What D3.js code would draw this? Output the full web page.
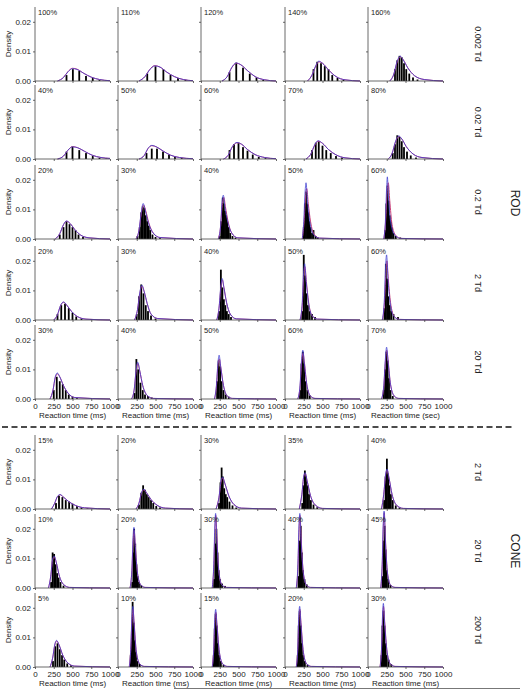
<!DOCTYPE html>
<html><head><meta charset="utf-8">
<script src="https://cdn.jsdelivr.net/npm/d3@7"></script>
<style>body{margin:0;background:#fff}svg{display:block;font-family:"Liberation Sans",Arial,sans-serif}</style>
</head><body>
<svg id="c" width="525" height="692"></svg>
<script>
// ---------- DATA ----------
const rowLabels = ["0.002 Td","0.02 Td","0.2 Td","2 Td","20 Td","2 Td","20 Td","200 Td"];
const groupLabels = [{name:"ROD", rows:[0,4]},{name:"CONE", rows:[5,7]}];
const pctLabels = [
  ["100%","110%","120%","140%","160%"],
  ["40%","50%","60%","70%","80%"],
  ["20%","30%","40%","50%","60%"],
  ["20%","30%","40%","50%","60%"],
  ["30%","40%","50%","60%","70%"],
  ["15%","20%","30%","35%","40%"],
  ["10%","20%","30%","40%","45%"],
  ["5%","10%","15%","20%","30%"]
];
const xTicks = [0,250,500,750,1000];
const yTicks = [0,0.01,0.02];
const xTitles = [
  ["Reaction time (ms)","Reaction time (ms)","Reaction time (ms)","Reaction time (ms)","Reaction time (sec)"],
  ["Reaction time (ms)","Reaction time (ms)","Reaction time (ms)","Reaction time (ms)","Reaction time (ms)"]
];
// histogram bars: [bin centre (ms), density]
const bars = [
 [ // 0.002 Td
  [[420,.002],[505,.004],[590,.0035],[680,.0017],[770,.001],[860,.0003]],
  [[390,.0025],[500,.005],[605,.004],[700,.002],[800,.001],[900,.0004]],
  [[380,.003],[470,.0062],[560,.0045],[650,.0025],[740,.0012],[830,.0004]],
  [[380,.004],[430,.0065],[480,.006],[530,.005],[580,.004],[630,.002],[700,.001],[780,.0004]],
  [[360,.004],[390,.007],[420,.0085],[450,.008],[480,.006],[510,.004],[550,.0025],[600,.0012],[660,.0005]]
 ],
 [ // 0.02 Td
  [[420,.0025],[500,.0042],[590,.003],[680,.002],[770,.001],[860,.0004],[950,.0002]],
  [[380,.002],[450,.0035],[520,.0035],[600,.0025],[680,.0015],[760,.0008],[850,.0004]],
  [[380,.003],[440,.005],[500,.0055],[560,.004],[620,.0028],[690,.0015],[770,.0007],[860,.0003]],
  [[360,.003],[410,.0055],[450,.006],[500,.0045],[550,.003],[610,.002],[680,.001],[760,.0005]],
  [[330,.002],[360,.005],[390,.008],[420,.0075],[450,.006],[480,.004],[520,.0025],[570,.0012],[640,.0005]]
 ],
 [ // 0.2 Td
  [[330,.0015],[380,.004],[420,.006],[460,.005],[500,.004],[540,.003],[580,.0015],[640,.0007]],
  [[260,.001],[290,.004],[310,.009],[330,.011],[350,.0105],[370,.008],[390,.006],[410,.0045],[430,.003],[460,.0015],[500,.0007],[560,.0003]],
  [[250,.001],[270,.006],[290,.014],[305,.012],[320,.0095],[335,.008],[350,.006],[370,.004],[390,.002],[420,.001],[460,.0005]],
  [[250,.004],[265,.012],[280,.016],[295,.012],[310,.009],[325,.006],[340,.004],[360,.002],[380,.003],[410,.001],[440,.0005]],
  [[230,.003],[245,.012],[260,.018],[275,.013],[290,.008],[305,.006],[320,.004],[340,.002],[370,.001],[430,.0005]]
 ],
 [ // 2 Td
  [[300,.002],[350,.005],[400,.0055],[450,.004],[500,.0025],[550,.0012],[620,.0005],[750,.0003]],
  [[250,.002],[280,.008],[310,.012],[340,.009],[370,.005],[400,.003],[440,.0015],[500,.0005]],
  [[240,.003],[265,.017],[285,.011],[305,.007],[325,.005],[345,.003],[370,.002],[400,.001]],
  [[230,.003],[250,.022],[268,.015],[285,.009],[305,.005],[330,.003],[360,.002],[400,.001]],
  [[220,.004],[238,.019],[255,.014],[272,.008],[290,.005],[310,.003],[340,.002],[400,.001]]
 ],
 [ // 20 Td
  [[250,.003],[290,.0075],[330,.006],[370,.005],[410,.003],[450,.0015],[500,.0008],[560,.0003]],
  [[220,.002],[245,.0135],[270,.01],[300,.0055],[330,.003],[360,.0015],[400,.001],[450,.0005]],
  [[215,.006],[235,.013],[255,.011],[275,.006],[300,.003],[330,.0015],[370,.0008]],
  [[200,.003],[220,.012],[238,.016],[255,.012],[275,.006],[300,.003],[330,.0012]],
  [[210,.003],[228,.01],[245,.016],[262,.013],[280,.007],[300,.003],[330,.001]]
 ],
 [ // cone 2 Td
  [[280,.002],[320,.0045],[365,.004],[410,.003],[455,.0025],[500,.0018],[560,.001],[620,.0005],[700,.0002]],
  [[280,.0015],[310,.0055],[335,.008],[360,.0065],[385,.005],[410,.004],[440,.003],[470,.002],[510,.001],[560,.0005]],
  [[240,.002],[260,.009],[275,.014],[290,.011],[310,.007],[330,.005],[350,.004],[380,.0025],[420,.0012],[470,.0005]],
  [[230,.002],[250,.008],[265,.013],[280,.011],[300,.008],[320,.005],[345,.003],[380,.0015],[430,.0006]],
  [[215,.003],[235,.011],[252,.017],[268,.012],[285,.008],[305,.005],[330,.003],[370,.0012],[420,.0005]]
 ],
 [ // cone 20 Td
  [[215,.002],[235,.012],[255,.0115],[275,.008],[295,.005],[315,.0035],[340,.002],[380,.0008]],
  [[190,.002],[205,.012],[215,.02],[230,.015],[245,.008],[260,.004],[280,.002],[310,.001]],
  [[175,.003],[190,.015],[205,.02],[220,.012],[235,.006],[255,.003],[280,.0015],[320,.0007]],
  [[180,.004],[195,.016],[210,.021],[225,.012],[240,.006],[260,.003],[290,.0012]],
  [[195,.004],[210,.016],[222,.021],[235,.013],[250,.006],[270,.003],[300,.001]]
 ],
 [ // cone 200 Td
  [[240,.002],[270,.007],[300,.008],[330,.006],[360,.004],[390,.0025],[430,.0012],[480,.0006]],
  [[170,.004],[185,.012],[195,.022],[210,.015],[225,.009],[240,.005],[260,.002],[290,.001]],
  [[170,.004],[183,.013],[196,.018],[210,.014],[225,.008],[240,.004],[265,.002],[300,.0008]],
  [[170,.004],[183,.014],[196,.019],[210,.014],[225,.008],[240,.004],[265,.002],[300,.0008]],
  [[180,.004],[193,.014],[206,.019],[220,.014],[235,.008],[250,.004],[275,.0025],[310,.001]]
 ]
];
// fitted density curves: [ms, density]
const redCurves = [
 [
  [[300,0],[380,.0012],[440,.0032],[500,.0043],[560,.004],[650,.0026],[750,.0013],[860,.0005],[1000,.0001]],
  [[280,0],[360,.0015],[420,.0038],[490,.0052],[560,.0047],[650,.003],[750,.0015],[870,.0005],[1000,.0001]],
  [[280,0],[350,.0015],[410,.0045],[470,.006],[530,.0055],[620,.0035],[720,.0015],[850,.0004],[1000,0]],
  [[300,0],[360,.002],[410,.005],[450,.0065],[500,.006],[580,.0038],[680,.0015],[800,.0004],[1000,0]],
  [[290,0],[340,.002],[390,.0065],[430,.0082],[470,.0072],[530,.0045],[620,.0018],[750,.0005],[1000,0]]
 ],
 [
  [[300,0],[380,.001],[440,.003],[500,.0042],[570,.0038],[660,.0026],[760,.0013],[880,.0005],[1000,.0002]],
  [[280,0],[350,.0012],[400,.0035],[450,.0045],[520,.004],[600,.0027],[700,.0013],[820,.0005],[1000,.0001]],
  [[300,0],[360,.0012],[420,.0042],[480,.0055],[540,.005],[620,.0032],[720,.0015],[850,.0005],[1000,.0001]],
  [[280,0],[340,.0015],[400,.0048],[440,.006],[500,.0053],[580,.0032],[680,.0014],[800,.0004],[1000,0]],
  [[270,0],[320,.0018],[370,.006],[410,.0076],[450,.0068],[510,.0042],[600,.0017],[720,.0005],[1000,0]]
 ],
 [
  [[270,0],[330,.0018],[380,.0048],[420,.006],[470,.0052],[530,.0032],[610,.0013],[720,.0004],[1000,0]],
  [[240,0],[280,.003],[310,.0085],[340,.0115],[370,.0095],[410,.0055],[470,.002],[560,.0005],[1000,0]],
  [[230,0],[260,.004],[285,.012],[305,.014],[325,.011],[360,.006],[410,.002],[490,.0004],[1000,0]],
  [[230,0],[255,.006],[275,.015],[290,.017],[310,.012],[340,.006],[390,.0015],[460,.0003],[1000,0]],
  [[210,0],[235,.006],[255,.016],[270,.019],[290,.013],[320,.005],[370,.0012],[440,.0002],[1000,0]]
 ],
 [
  [[250,0],[300,.0018],[340,.0048],[380,.006],[430,.0048],[490,.0028],[570,.0011],[680,.0003],[1000,0]],
  [[220,0],[260,.0035],[290,.009],[320,.0115],[350,.0095],[390,.0055],[440,.002],[530,.0005],[1000,0]],
  [[210,0],[240,.004],[265,.011],[285,.0135],[305,.011],[340,.006],[390,.002],[470,.0004],[1000,0]],
  [[200,0],[230,.005],[250,.015],[265,.018],[285,.013],[315,.006],[360,.0015],[430,.0003],[1000,0]],
  [[190,0],[220,.006],[240,.017],[252,.02],[270,.014],[300,.006],[350,.0012],[420,.0002],[1000,0]]
 ],
 [
  [[200,0],[240,.003],[270,.0072],[300,.0085],[330,.0075],[380,.0045],[440,.002],[530,.0005],[1000,0]],
  [[180,0],[215,.003],[240,.009],[265,.012],[290,.0095],[330,.0045],[390,.0012],[470,.0002],[1000,0]],
  [[180,0],[205,.004],[225,.011],[245,.0135],[265,.0105],[300,.0045],[350,.001],[420,.0002],[1000,0]],
  [[170,0],[200,.004],[220,.012],[240,.0155],[260,.012],[290,.005],[340,.001],[400,.0002],[1000,0]],
  [[180,0],[210,.004],[230,.012],[250,.0165],[270,.0125],[300,.005],[350,.001],[410,.0002],[1000,0]]
 ],
 [
  [[220,0],[260,.0018],[300,.0042],[335,.0048],[380,.004],[450,.0025],[540,.0012],[660,.0004],[1000,0]],
  [[240,0],[280,.002],[315,.0055],[345,.0065],[380,.0055],[440,.0032],[520,.0013],[630,.0003],[1000,0]],
  [[200,0],[240,.004],[270,.0095],[290,.0105],[320,.0085],[370,.0045],[440,.0015],[540,.0003],[1000,0]],
  [[190,0],[225,.005],[250,.011],[270,.012],[295,.0095],[340,.0045],[410,.0012],[500,.0002],[1000,0]],
  [[180,0],[210,.005],[235,.0115],[255,.0132],[280,.0105],[320,.005],[380,.0013],[470,.0002],[1000,0]]
 ],
 [
  [[180,0],[210,.004],[235,.0095],[258,.0105],[285,.0085],[320,.0045],[380,.0012],[460,.0002],[1000,0]],
  [[160,0],[185,.006],[202,.016],[215,.0195],[232,.014],[260,.005],[300,.0012],[360,.0002],[1000,0]],
  [[150,0],[170,.007],[185,.019],[197,.0245],[212,.017],[240,.005],[280,.001],[340,.0002],[1000,0]],
  [[150,0],[172,.007],[188,.02],[200,.0245],[215,.017],[245,.005],[285,.001],[340,.0002],[1000,0]],
  [[170,0],[190,.008],[205,.021],[217,.0255],[232,.017],[260,.005],[300,.001],[360,.0002],[1000,0]]
 ],
 [
  [[200,0],[235,.003],[265,.0075],[290,.0088],[320,.0075],[370,.004],[440,.0013],[530,.0003],[1000,0]],
  [[150,0],[170,.006],[187,.016],[200,.0195],[215,.015],[245,.005],[290,.001],[350,.0002],[1000,0]],
  [[150,0],[170,.006],[185,.015],[198,.0185],[213,.0145],[245,.005],[290,.001],[350,.0002],[1000,0]],
  [[150,0],[170,.006],[185,.016],[198,.0195],[213,.015],[245,.005],[290,.001],[350,.0002],[1000,0]],
  [[160,0],[180,.006],[195,.016],[207,.0205],[222,.0155],[255,.005],[300,.001],[360,.0002],[1000,0]]
 ]
];
const blueCurves = [
 [
  [[300,0],[380,.0012],[440,.0031],[500,.0042],[560,.0039],[650,.0026],[750,.0013],[860,.0005],[1000,.0001]],
  [[280,0],[360,.0015],[420,.0037],[490,.0051],[560,.0047],[650,.003],[750,.0015],[870,.0005],[1000,.0001]],
  [[280,0],[350,.0015],[410,.0046],[470,.0061],[530,.0055],[620,.0035],[720,.0015],[850,.0004],[1000,0]],
  [[300,0],[360,.002],[410,.0052],[450,.0067],[500,.006],[580,.0037],[680,.0015],[800,.0004],[1000,0]],
  [[290,0],[340,.002],[390,.0068],[430,.0084],[470,.0071],[530,.0044],[620,.0018],[750,.0005],[1000,0]]
 ],
 [
  [[300,0],[380,.001],[440,.003],[500,.0041],[570,.0038],[660,.0026],[760,.0013],[880,.0005],[1000,.0002]],
  [[280,0],[350,.0012],[400,.0036],[450,.0046],[520,.004],[600,.0027],[700,.0013],[820,.0005],[1000,.0001]],
  [[300,0],[360,.0012],[420,.0043],[480,.0056],[540,.005],[620,.0032],[720,.0015],[850,.0005],[1000,.0001]],
  [[280,0],[340,.0015],[400,.005],[440,.0062],[500,.0053],[580,.0032],[680,.0014],[800,.0004],[1000,0]],
  [[270,0],[320,.0018],[370,.0062],[410,.0078],[450,.0068],[510,.0042],[600,.0017],[720,.0005],[1000,0]]
 ],
 [
  [[270,0],[330,.0018],[380,.0049],[420,.0061],[470,.0052],[530,.0032],[610,.0013],[720,.0004],[1000,0]],
  [[240,0],[280,.003],[310,.009],[335,.012],[365,.0095],[405,.0055],[470,.002],[560,.0005],[1000,0]],
  [[230,0],[260,.004],[282,.013],[298,.0148],[318,.011],[355,.006],[410,.002],[490,.0004],[1000,0]],
  [[230,0],[250,.006],[268,.016],[280,.019],[300,.0125],[335,.005],[390,.0012],[460,.0003],[1000,0]],
  [[210,0],[232,.006],[248,.017],[258,.021],[275,.013],[310,.0045],[370,.001],[440,.0002],[1000,0]]
 ],
 [
  [[250,0],[300,.0018],[340,.0049],[380,.0061],[430,.0048],[490,.0028],[570,.0011],[680,.0003],[1000,0]],
  [[220,0],[260,.0035],[290,.0092],[318,.0118],[350,.0095],[390,.0055],[440,.002],[530,.0005],[1000,0]],
  [[210,0],[240,.004],[265,.0115],[283,.014],[305,.011],[340,.006],[390,.002],[470,.0004],[1000,0]],
  [[200,0],[230,.006],[248,.016],[262,.019],[282,.013],[315,.0055],[360,.0015],[430,.0003],[1000,0]],
  [[190,0],[218,.007],[236,.019],[248,.022],[266,.014],[300,.005],[350,.0011],[420,.0002],[1000,0]]
 ],
 [
  [[200,0],[240,.003],[270,.0075],[298,.0088],[330,.0075],[380,.0045],[440,.002],[530,.0005],[1000,0]],
  [[180,0],[215,.003],[240,.0095],[262,.0125],[290,.0095],[330,.0045],[390,.0012],[470,.0002],[1000,0]],
  [[180,0],[205,.0045],[225,.012],[242,.0148],[262,.011],[300,.0045],[350,.001],[420,.0002],[1000,0]],
  [[170,0],[200,.0045],[220,.013],[238,.0165],[258,.012],[290,.005],[340,.001],[400,.0002],[1000,0]],
  [[180,0],[210,.0045],[230,.013],[248,.0175],[268,.0125],[300,.005],[350,.001],[410,.0002],[1000,0]]
 ],
 [
  [[220,0],[260,.0018],[300,.0043],[335,.0049],[380,.004],[450,.0025],[540,.0012],[660,.0004],[1000,0]],
  [[240,0],[280,.002],[315,.0057],[345,.0067],[380,.0055],[440,.0032],[520,.0013],[630,.0003],[1000,0]],
  [[200,0],[240,.004],[268,.0098],[288,.0108],[320,.0085],[370,.0045],[440,.0015],[540,.0003],[1000,0]],
  [[190,0],[225,.005],[250,.0112],[268,.0123],[295,.0095],[340,.0045],[410,.0012],[500,.0002],[1000,0]],
  [[180,0],[210,.005],[235,.0118],[254,.0135],[280,.0105],[320,.005],[380,.0013],[470,.0002],[1000,0]]
 ],
 [
  [[180,0],[210,.004],[235,.0098],[256,.0108],[285,.0085],[320,.0045],[380,.0012],[460,.0002],[1000,0]],
  [[160,0],[185,.006],[200,.017],[213,.0205],[230,.014],[260,.005],[300,.0012],[360,.0002],[1000,0]],
  [[150,0],[170,.008],[183,.02],[195,.0252],[210,.017],[240,.005],[280,.001],[340,.0002],[1000,0]],
  [[150,0],[172,.008],[186,.021],[198,.0252],[213,.017],[245,.005],[285,.001],[340,.0002],[1000,0]],
  [[170,0],[190,.009],[203,.022],[215,.026],[230,.017],[260,.005],[300,.001],[360,.0002],[1000,0]]
 ],
 [
  [[200,0],[235,.003],[265,.0078],[288,.009],[320,.0075],[370,.004],[440,.0013],[530,.0003],[1000,0]],
  [[150,0],[170,.006],[185,.017],[198,.0205],[213,.015],[245,.005],[290,.001],[350,.0002],[1000,0]],
  [[150,0],[170,.006],[183,.016],[196,.0195],[211,.0145],[245,.005],[290,.001],[350,.0002],[1000,0]],
  [[150,0],[170,.006],[183,.017],[196,.0205],[211,.015],[245,.005],[290,.001],[350,.0002],[1000,0]],
  [[160,0],[180,.006],[193,.017],[205,.0215],[220,.0155],[255,.005],[300,.001],[360,.0002],[1000,0]]
 ]
];

// ---------- LAYOUT ----------
const svg = d3.select("#c");
const colLeft = [35, 118, 201, 285, 368];
const rowBase = [81, 159, 239, 320, 399, 509, 588, 667];
const panelW = 75, panelH = 74;
const x = d3.scaleLinear().domain([0,1000]).range([0,panelW]);
const y = d3.scaleLinear().domain([0,0.025]).range([panelH,0]);
const axisCol = "#444", txtCol = "#222";
const redCol = "#c8417a", blueCol = "#3b3bd0";
const line = d3.line().x(d=>x(d[0])).y(d=>y(Math.max(0,d[1]))).curve(d3.curveMonotoneX);

rowBase.forEach((base, r) => {
  colLeft.forEach((left, c) => {
    const g = svg.append("g").attr("transform", `translate(${left},${base-panelH})`);
    // bars
    g.selectAll("rect.bar").data(bars[r][c]).join("rect")
      .attr("x", d=>x(d[0])-0.9).attr("width", 1.8)
      .attr("y", d=>y(d[1])).attr("height", d=>panelH-y(d[1]))
      .attr("fill","#000");
    // curves
    g.append("path").attr("d", line(redCurves[r][c])).attr("fill","none").attr("stroke",redCol).attr("stroke-width",1);
    g.append("path").attr("d", line(blueCurves[r][c])).attr("fill","none").attr("stroke",blueCol).attr("stroke-width",0.9).attr("stroke-opacity",0.85);
    // axes
    const showX = (r===4 || r===7);
    const xa = g.append("g").attr("transform",`translate(0,${panelH})`)
      .call(d3.axisBottom(x).tickValues(xTicks).tickSize(2).tickPadding(2).tickFormat(showX? d3.format("d") : ()=>""));
    const ya = g.append("g")
      .call(d3.axisLeft(y).tickValues(yTicks).tickSize(2).tickPadding(2).tickFormat(c===0? d3.format(".2f") : ()=>""));
    [xa,ya].forEach(a=>{
      a.select(".domain").attr("stroke",axisCol).attr("stroke-width",0.8);
      a.selectAll(".tick line").attr("stroke",axisCol).attr("stroke-width",0.8);
      a.selectAll("text").attr("font-size",8).attr("fill",txtCol).attr("font-family","Liberation Sans, Arial, sans-serif");
    });
    ya.select(".domain").attr("d", `M0,0V${panelH}`);
    xa.select(".domain").attr("d", `M0,0H${panelW}`);
    // pct label
    g.append("text").attr("x",3).attr("y",8).attr("font-size",7.5).attr("fill",txtCol).text(pctLabels[r][c]);
    if (showX) {
      const ti = r===4 ? 0 : 1;
      g.append("text").attr("x",panelW/2).attr("y",panelH+18.5).attr("text-anchor","middle")
        .attr("font-size",8).attr("fill",txtCol).text(xTitles[ti][c]);
    }
    if (c===0) {
      g.append("text").attr("transform",`translate(${-24},${panelH/2}) rotate(-90)`)
        .attr("text-anchor","middle").attr("font-size",8).attr("fill",txtCol).text("Density");
    }
  });
  // row label
  svg.append("text").attr("transform",`translate(475,${base-panelH/2}) rotate(90)`)
    .attr("text-anchor","middle").attr("font-size",9).attr("fill",txtCol).text(rowLabels[r]);
});
// group labels
groupLabels.forEach(gl=>{
  const yc = (rowBase[gl.rows[0]]-panelH + rowBase[gl.rows[1]])/2;
  svg.append("text").attr("transform",`translate(511,${yc}) rotate(90)`)
    .attr("text-anchor","middle").attr("font-size",12).attr("fill",txtCol).text(gl.name);
});
// dashed separator
svg.append("line").attr("x1",2).attr("x2",513).attr("y1",427).attr("y2",427)
  .attr("stroke","#111").attr("stroke-width",1.6).attr("stroke-dasharray","6,3.5");
// bottom rule
svg.append("line").attr("x1",174).attr("x2",520).attr("y1",688.5).attr("y2",688.5)
  .attr("stroke","#777").attr("stroke-width",1);
</script>
</body></html>
